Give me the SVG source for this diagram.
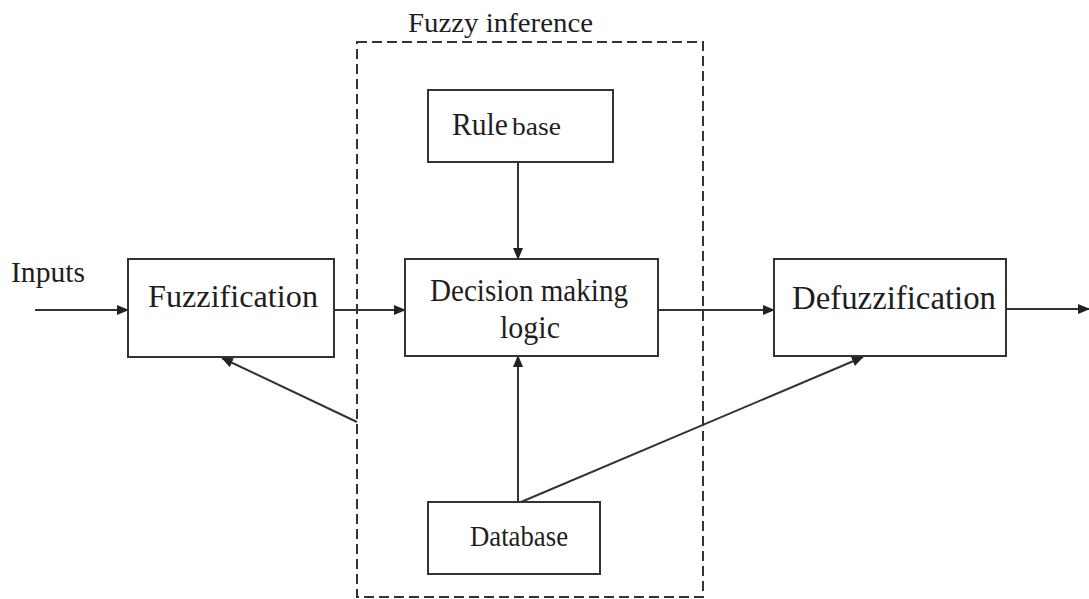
<svg xmlns="http://www.w3.org/2000/svg" width="1089" height="599" viewBox="0 0 1089 599">
<defs>
<marker id="arr" markerWidth="12" markerHeight="10" refX="11" refY="5" orient="auto" markerUnits="userSpaceOnUse">
<path d="M0,0 L12,5 L0,10 z" fill="#222"/>
</marker>
<style>
.box{fill:#fff;stroke:#333;stroke-width:2}
.t{font-family:"Liberation Serif","Times New Roman",serif;fill:#1e1e1e}
.ln{stroke:#333;stroke-width:2;fill:none}
</style>
</defs>
<rect width="1089" height="599" fill="#fff"/>
<g id="fuzzy-inference">
<rect x="357" y="42" width="346" height="555" fill="none" stroke="#333" stroke-width="2" stroke-dasharray="10,5"/>
<text class="t" x="408" y="32" font-size="27" textLength="185" lengthAdjust="spacingAndGlyphs">Fuzzy inference</text>
</g>
<g id="connectors">
<line class="ln" x1="35" y1="310" x2="128" y2="310" marker-end="url(#arr)"/>
<line class="ln" x1="334" y1="310" x2="405" y2="310" marker-end="url(#arr)"/>
<line class="ln" x1="658" y1="310" x2="774" y2="310" marker-end="url(#arr)"/>
<line class="ln" x1="1006" y1="309" x2="1089" y2="309" marker-end="url(#arr)"/>
<line class="ln" x1="518" y1="162" x2="518" y2="259" marker-end="url(#arr)"/>
<line class="ln" x1="518" y1="502" x2="518" y2="356" marker-end="url(#arr)"/>
<line class="ln" x1="521" y1="502" x2="863" y2="357" marker-end="url(#arr)"/>
<line class="ln" x1="357" y1="422" x2="222" y2="358" marker-end="url(#arr)"/>
</g>
<g id="inputs">
<text class="t" x="11" y="282" font-size="29" textLength="74" lengthAdjust="spacingAndGlyphs">Inputs</text>
</g>
<g id="fuzzification">
<rect class="box" x="128" y="259" width="206" height="98"/>
<text class="t" x="148" y="307" font-size="31" textLength="170" lengthAdjust="spacingAndGlyphs">Fuzzification</text>
</g>
<g id="rule-base">
<rect class="box" x="428" y="90" width="185" height="72"/>
<text class="t" x="452" y="135" font-size="32" textLength="56" lengthAdjust="spacingAndGlyphs">Rule</text>
<text class="t" x="512" y="135" font-size="25" textLength="49" lengthAdjust="spacingAndGlyphs">base</text>
</g>
<g id="decision-making-logic">
<rect class="box" x="405" y="259" width="253" height="97"/>
<text class="t" x="430" y="301" font-size="32" textLength="198" lengthAdjust="spacingAndGlyphs">Decision making</text>
<text class="t" x="500" y="338" font-size="32" textLength="60" lengthAdjust="spacingAndGlyphs">logic</text>
</g>
<g id="defuzzification">
<rect class="box" x="774" y="259" width="232" height="97"/>
<text class="t" x="792" y="309" font-size="33" textLength="204" lengthAdjust="spacingAndGlyphs">Defuzzification</text>
</g>
<g id="database">
<rect class="box" x="428" y="502" width="172" height="72"/>
<text class="t" x="470" y="546" font-size="30" textLength="98" lengthAdjust="spacingAndGlyphs">Database</text>
</g>
</svg>
